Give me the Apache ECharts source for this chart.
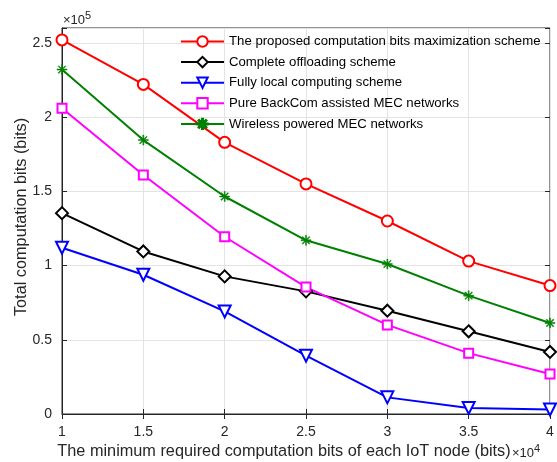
<!DOCTYPE html>
<html><head><meta charset="utf-8">
<script src="https://cdn.jsdelivr.net/npm/echarts@6/dist/echarts.min.js"></script>
<style>html,body{margin:0;padding:0;background:#fff}#c{width:557px;height:462px}</style>
</head><body><div id="c"></div>
<script>
const xValues = [1, 1.5, 2, 2.5, 3, 3.5, 4];
const proposed = [2.52, 2.22, 1.83, 1.55, 1.30, 1.03, 0.865];
const offloading = [1.353, 1.095, 0.927, 0.826, 0.696, 0.557, 0.418];
const localComp = [1.12, 0.938, 0.691, 0.393, 0.112, 0.041, 0.03];
const backcom = [2.06, 1.61, 1.194, 0.855, 0.60, 0.41, 0.27];
const wpt = [2.32, 1.845, 1.465, 1.17, 1.01, 0.797, 0.613];
const seriesNames = ['The proposed computation bits maximization scheme','Complete offloading scheme','Fully local computing scheme','Pure BackCom assisted MEC networks','Wireless powered MEC networks'];
const xTickLabels = ['1','1.5','2','2.5','3','3.5','4'];
const yTickLabels = ['0','0.5','1','1.5','2','2.5'];

const FONT = 'Liberation Sans, Arial, Helvetica, sans-serif';
const asterisk = 'path://M9,0h2v20h-2zM0,9h20v2h-20zM2.2,3.6l1.4,-1.4l14.2,14.2l-1.4,1.4zM16.4,2.2l1.4,1.4l-14.2,14.2l-1.4,-1.4z';

function mk(name, data, color, symbol, size, extra) {
  return Object.assign({
    name, type: 'line', data: data.map((v,i)=>[xValues[i], v]),
    symbol, symbolSize: size, showAllSymbol: true,
    lineStyle: {color, width: 2},
    itemStyle: {color: '#fff', borderColor: color, borderWidth: 2},
    emphasis: {disabled: true}, z: 3
  }, extra || {});
}

const chart = echarts.init(document.getElementById('c'), null, {renderer: 'canvas'});
const tick = {inside: true, length: 5, lineStyle: {color: '#262626'}};
chart.setOption({
  animation: false,
  grid: {left: 62, right: 7, top: 28, bottom: 48, show: true, borderColor: '#262626', borderWidth: 1, backgroundColor: 'transparent'},
  legend: {
    orient: 'vertical', left: 175, top: 30, itemWidth: 43, itemHeight: 13, itemGap: 7.6,
    textStyle: {fontFamily: FONT, fontSize: 13.2, color: '#000', lineHeight: 13},
    data: seriesNames
  },
  xAxis: [{
    type: 'value', min: 1, max: 4, interval: 0.5,
    axisLine: {show: true, lineStyle: {color: '#262626'}}, axisTick: tick,
    axisLabel: {fontFamily: FONT, fontSize: 14, color: '#262626', margin: 11,
      formatter: v => { const i = xValues.indexOf(v); return i >= 0 ? xTickLabels[i] : ''; }},
    splitLine: {show: true, lineStyle: {color: '#e3e3e3', width: 1}}
  },{
    type: 'value', min: 1, max: 4, interval: 0.5, position: 'top',
    axisLine: {show: false}, axisTick: tick,
    axisLabel: {show: false}, splitLine: {show: false}
  }],
  yAxis: [{
    type: 'value', min: 0, max: 2.6, interval: 0.5,
    axisLine: {show: true, lineStyle: {color: '#262626'}}, axisTick: tick,
    axisLabel: {fontFamily: FONT, fontSize: 14, color: '#262626', margin: 10,
      formatter: v => { const i = Math.round(v*2); return Math.abs(v*2 - i) < 1e-6 && i < yTickLabels.length ? yTickLabels[i] : ''; }},
    splitLine: {show: true, lineStyle: {color: '#e3e3e3', width: 1}}
  },{
    type: 'value', min: 0, max: 2.6, interval: 0.5, position: 'right',
    axisLine: {show: false}, axisTick: tick,
    axisLabel: {show: false}, splitLine: {show: false}
  }],
  graphic: [
    {type: 'text', left: 63, top: 10, style: {rich: {a: {fontFamily: FONT, fontSize: 13, fill: '#262626', padding:[4,0,0,0]}, b: {fontFamily: FONT, fontSize: 11, fill: '#262626', verticalAlign: 'top'}}, text: '{a|×10}{b|5}'}},
    {type: 'text', left: 512, top: 443, style: {rich: {a: {fontFamily: FONT, fontSize: 13, fill: '#262626', padding:[4,0,0,0]}, b: {fontFamily: FONT, fontSize: 11, fill: '#262626', verticalAlign: 'top'}}, text: '{a|×10}{b|4}'}},
    {type: 'text', x: 284, y: 452, style: {text: 'The minimum required computation bits of each IoT node (bits)', fontFamily: FONT, fontSize: 16.3, fill: '#262626', align: 'center', verticalAlign: 'middle'}},
    {type: 'text', x: 22, y: 217, rotation: Math.PI/2, style: {text: 'Total computation bits (bits)', fontFamily: FONT, fontSize: 16.3, fill: '#262626', align: 'center', verticalAlign: 'middle'}}
  ],
  series: [
    mk(seriesNames[0], proposed, '#ff0000', 'circle', 11),
    mk(seriesNames[1], offloading, '#000000', 'diamond', 12),
    mk(seriesNames[2], localComp, '#0000ff', 'triangle', 12, {symbolRotate: 180}),
    mk(seriesNames[3], backcom, '#ff00ff', 'rect', 9),
    Object.assign(mk(seriesNames[4], wpt, '#008000', asterisk, 10), {itemStyle: {color: '#008000', borderColor: '#008000', borderWidth: 0.5}})
  ]
});
</script></body></html>
